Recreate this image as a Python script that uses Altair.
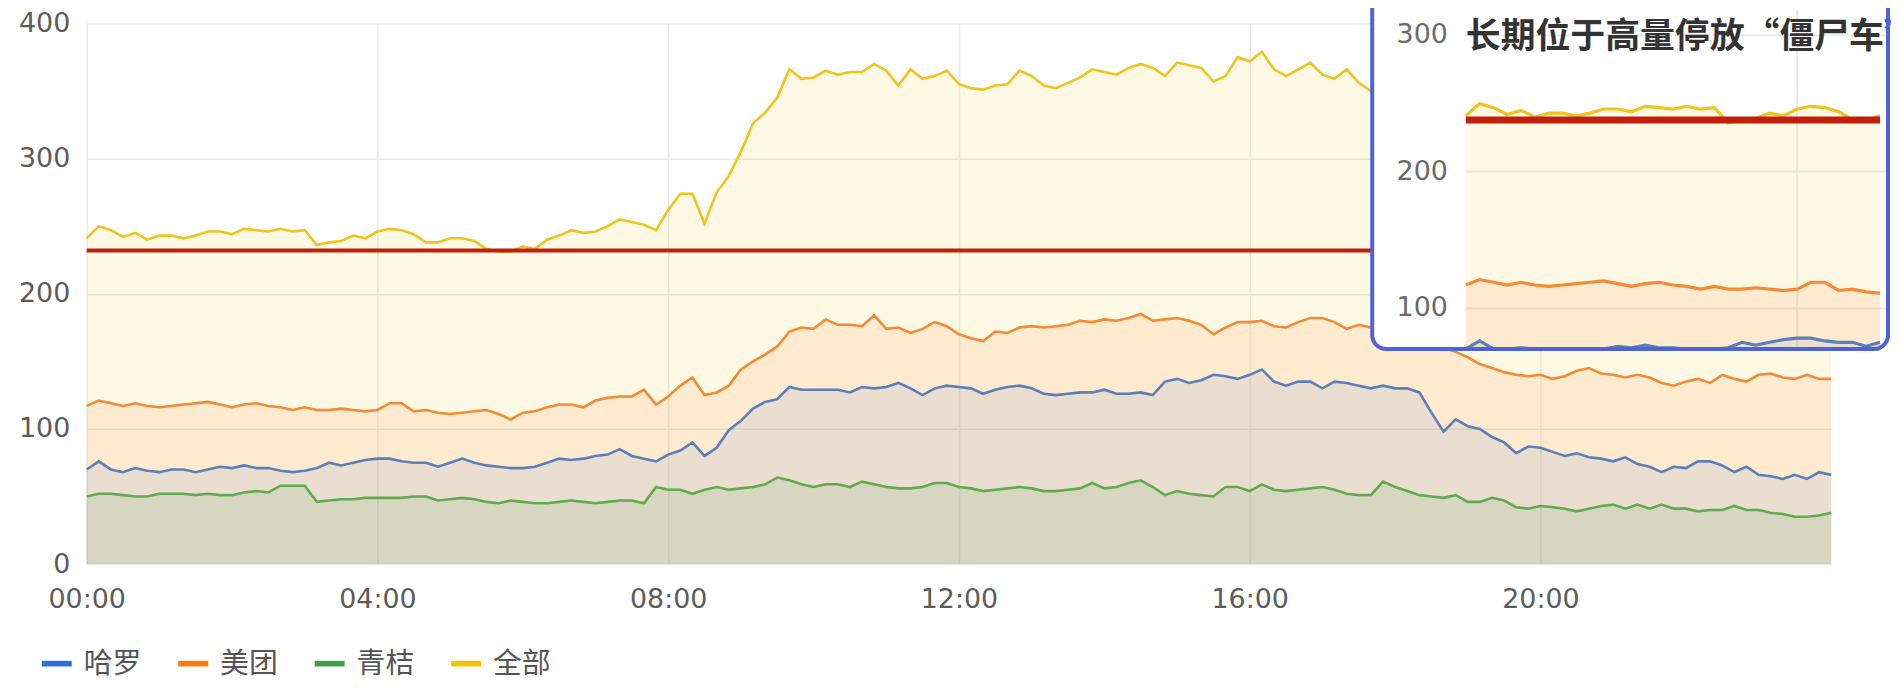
import altair as alt
import pandas as pd

# ---------------- data (one value per 10 minutes) -------------
series_names = ["哈罗", "美团", "青桔", "全部"]
times = list(range(0, 1441, 10))  # minutes after 00:00

hello = [  # 哈罗
    70, 76, 70, 68, 71, 69, 68, 70, 70, 68, 70, 72,
    71, 73, 71, 71, 69, 68, 69, 71, 75, 73, 75, 77,
    78, 78, 76, 75, 75, 72, 75, 78, 75, 73, 72, 71,
    71, 72, 75, 78, 77, 78, 80, 81, 85, 80, 78, 76,
    81, 84, 90, 80, 86, 99, 106, 115, 120, 122, 131, 129,
    129, 129, 129, 127, 131, 130, 131, 134, 130, 125, 130, 132,
    131, 130, 126, 129, 131, 132, 130, 126, 125, 126, 127, 127,
    129, 126, 126, 127, 125, 135, 137, 134, 136, 140, 139, 137,
    140, 144, 135, 132, 135, 135, 130, 135, 134, 132, 130, 132,
    130, 130, 127, 112, 98, 107, 102, 100, 94, 90, 82, 87,
    86, 83, 80, 82, 79, 78, 76, 79, 74, 72, 68, 72,
    71, 76, 76, 73, 68, 72, 66, 65, 63, 66, 63, 68,
    66,
]
meituan = [  # 美团
    117, 121, 119, 117, 119, 117, 116, 117, 118, 119, 120, 118,
    116, 118, 119, 117, 116, 114, 116, 114, 114, 115, 114, 113,
    114, 119, 119, 113, 114, 112, 111, 112, 113, 114, 111, 107,
    112, 113, 116, 118, 118, 116, 121, 123, 124, 124, 129, 118,
    124, 132, 138, 125, 127, 132, 144, 150, 155, 161, 172, 175,
    174, 181, 177, 177, 176, 184, 174, 175, 171, 174, 179, 176,
    170, 167, 165, 172, 171, 175, 176, 175, 176, 177, 180, 179,
    181, 180, 182, 185, 180, 181, 182, 180, 177, 170, 175, 179,
    179, 180, 176, 175, 179, 182, 182, 179, 174, 177, 175, 172,
    170, 168, 165, 162, 160, 157, 153, 148, 145, 142, 140, 139,
    140, 137, 139, 143, 145, 141, 140, 138, 140, 138, 134, 132,
    135, 137, 134, 140, 137, 135, 140, 141, 138, 137, 140, 137,
    137,
]
qingju = [  # 青桔
    50, 52, 52, 51, 50, 50, 52, 52, 52, 51, 52, 51,
    51, 53, 54, 53, 58, 58, 58, 46, 47, 48, 48, 49,
    49, 49, 49, 50, 50, 47, 48, 49, 48, 46, 45, 47,
    46, 45, 45, 46, 47, 46, 45, 46, 47, 47, 45, 57,
    55, 55, 52, 55, 57, 55, 56, 57, 59, 64, 62, 59,
    57, 59, 59, 57, 61, 59, 57, 56, 56, 57, 60, 60,
    57, 56, 54, 55, 56, 57, 56, 54, 54, 55, 56, 60,
    56, 57, 60, 62, 57, 51, 54, 52, 51, 50, 57, 57,
    54, 59, 55, 54, 55, 56, 57, 55, 52, 51, 51, 61,
    57, 54, 51, 50, 49, 51, 46, 46, 49, 47, 42, 41,
    43, 42, 41, 39, 41, 43, 44, 41, 44, 41, 44, 41,
    41, 39, 40, 40, 43, 40, 40, 38, 37, 35, 35, 36,
    38,
]
total = [  # 全部
    241, 250, 247, 242, 245, 240, 243, 243, 241, 243, 246, 246,
    244, 248, 247, 246, 248, 246, 247, 236, 238, 239, 243, 241,
    246, 248, 247, 244, 238, 238, 241, 241, 239, 233, 231, 231,
    235, 233, 240, 243, 247, 245, 246, 250, 255, 253, 251, 247,
    262, 274, 274, 252, 275, 287, 305, 326, 334, 345, 366, 359,
    360, 365, 362, 364, 364, 370, 365, 354, 366, 359, 361, 365,
    355, 352, 351, 354, 355, 365, 361, 354, 352, 356, 360, 366,
    364, 362, 367, 370, 367, 361, 371, 369, 367, 357, 361, 375,
    372, 379, 366, 361, 366, 371, 362, 359, 366, 356, 350, 362,
    357, 352, 343, 324, 307, 315, 301, 294, 288, 279, 264, 267,
    269, 262, 260, 264, 265, 262, 260, 258, 258, 251, 246, 245,
    247, 252, 250, 253, 248, 247, 246, 244, 238, 238, 238, 241,
    241,
]

threshold_main = [232]        # red reference line, main chart
threshold_inset = [238]       # red reference line as drawn in the magnified inset
inset_span = [0, 300]         # minutes shown in the magnified inset
inset_ticks = [300, 200, 100]
inset_vgrid = [240]
x_ticks = [0, 240, 480, 720, 960, 1200]
y_ticks = [0, 100, 200, 300, 400]
title_text = ["长期位于高量停放“僵尸车”"]

legend_colors = ["#2f6fdc", "#ff7a12", "#3e9f4a", "#f6c400"]
line_colors = ["#5a7fba", "#f68a32", "#62ab4d", "#f0c41c"]

rows = []
for name, vals in zip(series_names, [hello, meituan, qingju, total]):
    for t, v in zip(times, vals):
        rows.append({"t": t, "v": v, "s": name})
df = pd.DataFrame(rows)
df["ord"] = df["s"].map({"全部": 0, "美团": 1, "哈罗": 2, "青桔": 3})
df = df.sort_values(["ord", "t"])

AXIS_FONT = "DejaVu Sans"
CJK = "Noto Sans CJK SC"
GRID = "#ebebeb"
LABEL = "#5c5c5c"

fill_scale = alt.Scale(domain=series_names, range=legend_colors)
stroke_scale = alt.Scale(domain=series_names, range=line_colors)

x_main = alt.Scale(domain=[0, 1440], nice=False, zero=False)
y_main = alt.Scale(domain=[0, 400], nice=False)

x_axis = alt.Axis(values=x_ticks, labelExpr="(datum.value < 600 ? '0' : '') + floor(datum.value / 60) + ':00'",
                  grid=True, gridColor=GRID, gridWidth=1.5, domain=False, ticks=False,
                  labelFont=AXIS_FONT, labelFontSize=27, labelColor=LABEL, labelPadding=23,
                  labelFlush=False, labelOverlap=False, title=None)
y_axis = alt.Axis(values=y_ticks, grid=True, gridColor=GRID, gridWidth=1.5, domain=False, ticks=False,
                  labelFont=AXIS_FONT, labelFontSize=27, labelColor=LABEL, labelPadding=17, title=None)

legend = alt.Legend(orient="none", legendX=-45, legendY=628, direction="horizontal", title=None,
                    labelFont=CJK, labelFontSize=29, labelColor="#555555",
                    symbolType="M-1,-0.19L1,-0.19L1,0.19L-1,0.19Z", symbolSize=900,
                    symbolOpacity=1, symbolStrokeWidth=0, labelOffset=12, columnPadding=36)

base = alt.Chart(df)
areas = base.mark_area(fillOpacity=0.1).encode(
    x=alt.X("t:Q", scale=x_main, axis=x_axis),
    y=alt.Y("v:Q", scale=y_main, axis=y_axis, stack=None),
    color=alt.Color("s:N", scale=fill_scale, legend=legend, sort=series_names),
    order=alt.Order("ord:Q"),
)
lines = base.mark_line(strokeWidth=2.6).encode(
    x=alt.X("t:Q", scale=x_main),
    y=alt.Y("v:Q", scale=y_main),
    stroke=alt.Stroke("s:N", scale=stroke_scale, legend=None),
)
red_main = alt.Chart(pd.DataFrame({"t0": [0], "t1": [1440], "v": threshold_main})).mark_rule(
    color="#c01f0a", strokeWidth=4).encode(
    x=alt.X("t0:Q", scale=x_main), x2="t1:Q", y=alt.Y("v:Q", scale=y_main))

main = alt.layer(areas, lines, red_main)

# ---------------- magnified inset ----------------
ix = alt.Scale(domain=inset_span, range=[1385, 1801], nice=False, zero=False)
iy = alt.Scale(domain=[70.1, 319.0], range=[327, -14], nice=False, zero=False, clamp=True)

dummy = pd.DataFrame({"k": [0]})
inset_df = df[df["t"] <= inset_span[1]]

BOX = dict(x=alt.value(1291), x2=alt.value(1809), y=alt.value(-200), y2=alt.value(327))
box_fill = alt.Chart(dummy).mark_rect(fill="white", cornerRadius=14).encode(**BOX)
i_hgrid = alt.Chart(pd.DataFrame({"tick": inset_ticks})).mark_rule(color=GRID, strokeWidth=2).encode(
    y=alt.Y("tick:Q", scale=iy, axis=None), x=alt.value(1385), x2=alt.value(1807))
i_vgrid = alt.Chart(pd.DataFrame({"t": inset_vgrid})).mark_rule(color=GRID, strokeWidth=2).encode(
    x=alt.X("t:Q", scale=ix, axis=None), y=alt.value(-14), y2=alt.value(327))
i_areas = alt.Chart(inset_df).mark_area(fillOpacity=0.1).encode(
    x=alt.X("t:Q", scale=ix, axis=None),
    y=alt.Y("v:Q", scale=iy, axis=None, stack=None),
    color=alt.Color("s:N", scale=fill_scale, sort=series_names),
    order=alt.Order("ord:Q"),
)
i_lines = alt.Chart(inset_df).mark_line(strokeWidth=3.2).encode(
    x=alt.X("t:Q", scale=ix, axis=None),
    y=alt.Y("v:Q", scale=iy, axis=None),
    stroke=alt.Stroke("s:N", scale=stroke_scale, legend=None),
)
i_red = alt.Chart(pd.DataFrame({"t0": [inset_span[0]], "t1": [inset_span[1]], "v": threshold_inset})).mark_rule(
    color="#c01f0a", strokeWidth=7).encode(
    x=alt.X("t0:Q", scale=ix, axis=None), x2="t1:Q", y=alt.Y("v:Q", scale=iy, axis=None))
i_labels = alt.Chart(pd.DataFrame({"tick": inset_ticks})).mark_text(
    align="right", baseline="middle", font=AXIS_FONT, fontSize=27, color="#6a6a6a").encode(
    y=alt.Y("tick:Q", scale=iy, axis=None), x=alt.value(1367), text=alt.Text("tick:Q"))
i_title = alt.Chart(pd.DataFrame({"label": title_text})).mark_text(
    align="left", baseline="middle", font=CJK, fontSize=35, fontWeight="bold", color="#333333").encode(
    x=alt.value(1385), y=alt.value(14), text="label:N")
box_stroke = alt.Chart(dummy).mark_rect(fillOpacity=0, stroke="#4f62d8", strokeWidth=4, cornerRadius=14).encode(**BOX)

inset = alt.layer(box_fill, i_hgrid, i_vgrid, i_areas, i_lines, i_red, i_labels, i_title, box_stroke)

chart = alt.layer(main, inset).resolve_scale(x="independent", y="independent").properties(
    width=1752, height=543,
    autosize=alt.AutoSizeParams(type="none"),
    padding={"left": 79, "top": 14, "right": 61, "bottom": 121},
    background="white",
).configure_view(stroke=None)

chart.save("out.html", embed_options={"renderer": "svg", "actions": False})
